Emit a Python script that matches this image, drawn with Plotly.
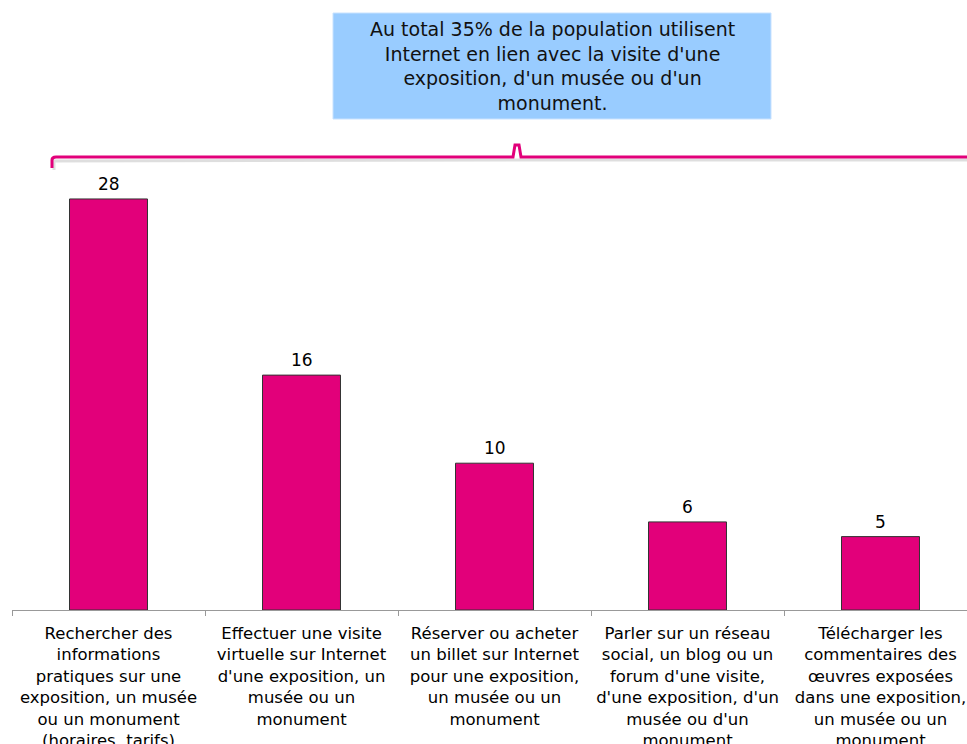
import plotly.graph_objects as go

categories = [
    "Rechercher des<br>informations<br>pratiques sur une<br>exposition, un musée<br>ou un monument<br>(horaires, tarifs)",
    "Effectuer une visite<br>virtuelle sur Internet<br>d'une exposition, un<br>musée ou un<br>monument",
    "Réserver ou acheter<br>un billet sur Internet<br>pour une exposition,<br>un musée ou un<br>monument",
    "Parler sur un réseau<br>social, un blog ou un<br>forum d'une visite,<br>d'une exposition, d'un<br>musée ou d'un<br>monument",
    "Télécharger les<br>commentaires des<br>œuvres exposées<br>dans une exposition,<br>un musée ou un<br>monument",
]
values = [28, 16, 10, 6, 5]
box_text = "Au total 35% de la population utilisent<br>Internet en lien avec la visite d'une<br>exposition, d'un musée ou d'un<br>monument."

W, H = 967, 744
L, R, T = 12, 0, 0
BASE = 610  # screen y of axis
B = H - BASE
PW, PH = W - L - R, H - T - B
FONT = "DejaVu Sans, Verdana, sans-serif"
PINK = "#E2007A"

def px(x):
    return (x - L) / PW

def py(y):
    return (BASE - y) / PH

fig = go.Figure()
fig.add_trace(go.Bar(
    x=list(range(len(values))), y=values,
    marker=dict(color=PINK, line=dict(color="#333333", width=1)),
    width=0.404, hoverinfo="skip",
))

for i, v in enumerate(values):
    fig.add_annotation(x=i, y=v, text=str(v), showarrow=False, yanchor="bottom",
                       yshift=3, font=dict(family=FONT, size=17, color="#000"))

# bracket shadow and line
path = f"M {px(52)},{py(168)} L {px(52)},{py(160)} Q {px(52)},{py(157)} {px(56)},{py(157)} L {px(513)},{py(157)} L {px(515)},{py(145)} L {px(519)},{py(145)} L {px(521)},{py(157)} L {px(980)},{py(157)}"
path_sh = f"M {px(54)},{py(170)} L {px(54)},{py(161)} L {px(513)},{py(160)} L {px(980)},{py(160)}"
fig.add_shape(type="path", path=path_sh, xref="paper", yref="paper",
              line=dict(color="rgba(0,0,0,0.13)", width=3))
fig.add_shape(type="path", path=path, xref="paper", yref="paper",
              line=dict(color=PINK, width=3))

# blue box
fig.add_shape(type="rect", xref="paper", yref="paper",
              x0=px(333), x1=px(771), y0=py(119), y1=py(13),
              fillcolor="#99CCFF", line=dict(color="#C8E2FF", width=1))
fig.add_annotation(xref="paper", yref="paper", x=px(552), y=py(66), text=box_text,
                   showarrow=False, xanchor="center", yanchor="middle",
                   font=dict(family=FONT, size=19, color="#111"), align="center")

fig.update_layout(
    width=W, height=H,
    margin=dict(l=L, r=R, t=T, b=B),
    plot_bgcolor="white", paper_bgcolor="white",
    showlegend=False,
    font=dict(family=FONT, size=16, color="#000"),
)
fig.update_xaxes(
    type="linear", range=[-0.5, -0.5 + PW / 193.0],
    tickmode="array", tickvals=list(range(len(values))), ticktext=categories,
    showline=True, linecolor="#999999", linewidth=1, automargin=False,
    ticklabeloverflow="allow",
    ticks="", showgrid=False, zeroline=False, ticklabelstandoff=8,
    tickfont=dict(family=FONT, size=16.5, color="#000"),
)
fig.update_xaxes(minor=dict(tickmode="array", tickvals=[-0.5, 0.5, 1.5, 2.5, 3.5, 4.5],
                            ticks="outside", ticklen=5, tickcolor="#999999", showgrid=False))
fig.update_yaxes(range=[0, PH / 14.68], visible=False)

fig.write_html("out.html", config={"displayModeBar": False},
               post_script="document.body.style.margin='0';document.documentElement.style.overflow='hidden';document.body.style.overflow='hidden';")
